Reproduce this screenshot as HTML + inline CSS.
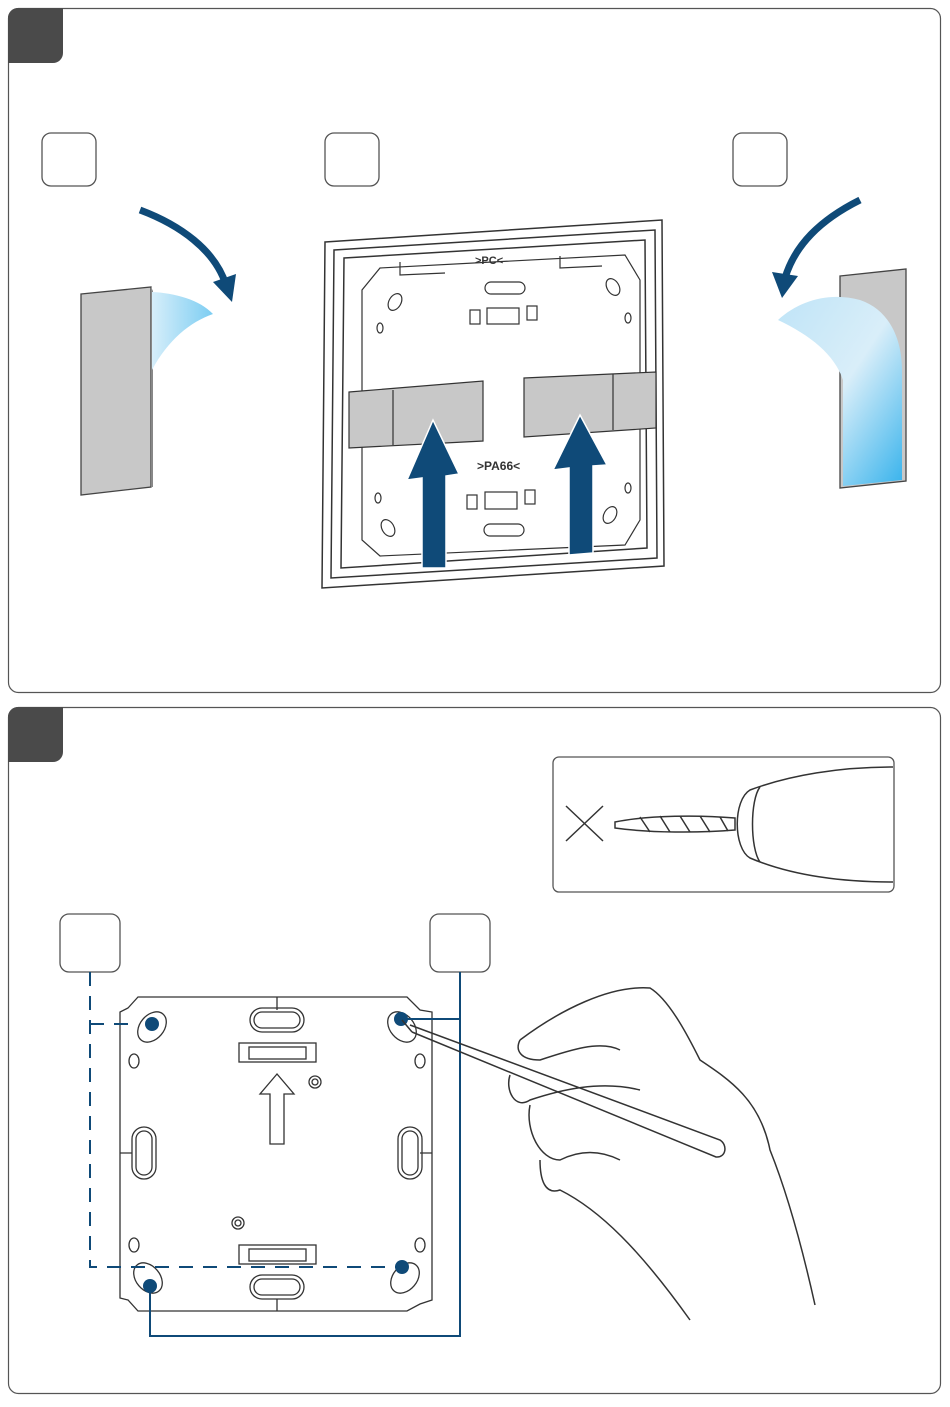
<!DOCTYPE html>
<html><head><meta charset="utf-8"><style>html,body{margin:0;padding:0;background:#fff}</style></head>
<body>
<svg width="950" height="1402" viewBox="0 0 950 1402" xmlns="http://www.w3.org/2000/svg">
<defs>
<linearGradient id="tape" x1="0" y1="0" x2="1" y2="1">
<stop offset="0" stop-color="#bfe4f7"/><stop offset="0.5" stop-color="#d9eef9"/><stop offset="1" stop-color="#38b3ec"/>
</linearGradient>
<linearGradient id="tape2" x1="0" y1="0" x2="1" y2="0">
<stop offset="0" stop-color="#d6eefa"/><stop offset="1" stop-color="#7ccdf2"/>
</linearGradient>
</defs>
<g fill="none" stroke="#555" stroke-width="1.2">
<rect x="8.5" y="8.5" width="932" height="684" rx="10"/>
<rect x="8.5" y="707.5" width="932" height="686" rx="10"/>
</g>
<path d="M8,18 a10,10 0 0 1 10,-10 H63 V53 a10,10 0 0 1 -10,10 H8Z" fill="#4a4a4a"/>
<path d="M8,717 a10,10 0 0 1 10,-10 H63 V752 a10,10 0 0 1 -10,10 H8Z" fill="#4a4a4a"/>
<g fill="none" stroke="#555" stroke-width="1.3">
<rect x="42" y="133" width="54" height="53" rx="9"/>
<rect x="325" y="133" width="54" height="53" rx="9"/>
<rect x="733" y="133" width="54" height="53" rx="9"/>
<rect x="60" y="914" width="60" height="58" rx="9"/>
<rect x="430" y="914" width="60" height="58" rx="9"/>
<rect x="553" y="757" width="341" height="135" rx="6"/>
</g>
<!-- left tape -->
<path d="M81,294 L151,287 L151,487 L81,495Z" fill="#c8c8c8" stroke="#444" stroke-width="1.3"/>
<path d="M151,287 L153,291 L153,487 L151,487Z" fill="#888"/>
<path d="M152,292 C175,293 200,300 213,314 C190,322 168,340 152,370Z" fill="url(#tape2)"/>
<path d="M140,210 C180,225 215,250 226,285" stroke="#0f4a78" stroke-width="7" fill="none"/>
<path d="M213,282 L232,302 L236,274Z" fill="#0f4a78"/>
<!-- right tape -->
<path d="M840,276 L906,269 L906,481 L840,488Z" fill="#c8c8c8" stroke="#444" stroke-width="1.3"/>
<path d="M778,320 C800,300 830,292 860,300 C890,310 902,340 902,370 L902,480 L843,486 L843,380 C835,355 810,335 778,320Z" fill="url(#tape)"/>
<path d="M860,200 C820,220 795,245 785,278" stroke="#0f4a78" stroke-width="7" fill="none"/>
<path d="M772,272 L782,298 L798,276Z" fill="#0f4a78"/>
<!-- frame -->
<g stroke="#333" stroke-width="1.5" fill="#fff">
<path d="M325,242 L662,220 L664,566 L322,588Z"/>
<path d="M334,250 L655,230 L657,558 L331,578Z"/>
<path d="M344,258 L645,240 L647,548 L341,568Z"/>
</g>
<g stroke="#333" stroke-width="1.2" fill="none">
<path d="M380,268 L625,255 L640,280 L640,520 L625,545 L380,556 L362,540 L362,290Z"/>
<path d="M400,262 L400,275 L445,273 M560,256 L560,268 L602,266"/>
<rect x="485" y="282" width="40" height="12" rx="6"/>
<rect x="484" y="524" width="40" height="12" rx="6"/>
<ellipse cx="395" cy="302" rx="6" ry="9" transform="rotate(30 395 302)"/>
<ellipse cx="613" cy="287" rx="6" ry="9" transform="rotate(-30 613 287)"/>
<ellipse cx="380" cy="328" rx="3" ry="5"/>
<ellipse cx="628" cy="318" rx="3" ry="5"/>
<ellipse cx="378" cy="498" rx="3" ry="5"/>
<ellipse cx="628" cy="488" rx="3" ry="5"/>
<ellipse cx="388" cy="528" rx="6" ry="9" transform="rotate(-30 388 528)"/>
<ellipse cx="610" cy="515" rx="6" ry="9" transform="rotate(30 610 515)"/>
<rect x="470" y="310" width="10" height="14"/><rect x="487" y="308" width="32" height="16"/><rect x="527" y="306" width="10" height="14"/>
<rect x="467" y="495" width="10" height="14"/><rect x="485" y="492" width="32" height="17"/><rect x="525" y="490" width="10" height="14"/>
</g>
<text x="475" y="264" font-family="Liberation Sans,sans-serif" font-size="11" font-weight="bold" fill="#333">&gt;PC&lt;</text>
<text x="477" y="470" font-family="Liberation Sans,sans-serif" font-size="12" font-weight="bold" fill="#333">&gt;PA66&lt;</text>
<g fill="#c8c8c8" stroke="#333" stroke-width="1.2">
<path d="M349,392 L483,381 L483,441 L349,448Z"/><path d="M393,390 L393,445"/>
<path d="M524,378 L656,372 L656,428 L524,437Z"/><path d="M613,374 L613,430"/>
</g>
<g fill="#0f4a78" stroke="#fff" stroke-width="1.5">
<path d="M433,420 L407,480 L422,478 L422,568 L446,568 L446,476 L459,474Z"/>
<path d="M580,415 L553,470 L569,468 L569,555 L593,553 L593,466 L607,465Z"/>
</g>
<!-- drill inset -->
<g stroke="#333" stroke-width="1.5" fill="none">
<path d="M566,806 L603,841 M603,806 L566,841"/>
<path d="M615,822 C650,815 700,815 735,818 L735,830 C700,833 650,833 615,828Z" fill="#fff"/>
<path d="M640,817 L650,832 M660,816 L670,832 M680,816 L690,832 M700,816 L710,832 M720,817 L728,831"/>
<path d="M893,767 C840,767 790,775 750,790 C733,800 733,848 750,858 C790,875 840,882 893,882" fill="#fff"/>
<path d="M760,787 C750,800 750,848 760,862"/>
</g>
<!-- mounting plate -->
<g stroke="#333" stroke-width="1.3" fill="none">
<path d="M138,997 L407,997 L420,1010 L432,1012 L432,1300 L420,1304 L407,1311 L138,1311 L128,1300 L120,1298 L120,1012 L128,1008Z"/>
<path d="M277,997 V1010 M277,1299 V1311 M120,1153 H132 M420,1153 H432"/>
<rect x="250" y="1008" width="54" height="24" rx="12"/><rect x="254" y="1012" width="46" height="16" rx="8"/>
<rect x="250" y="1275" width="54" height="24" rx="12"/><rect x="254" y="1279" width="46" height="16" rx="8"/>
<rect x="132" y="1127" width="24" height="52" rx="12"/><rect x="136" y="1131" width="16" height="44" rx="8"/>
<rect x="398" y="1127" width="24" height="52" rx="12"/><rect x="402" y="1131" width="16" height="44" rx="8"/>
<rect x="239" y="1043" width="77" height="19"/><rect x="249" y="1047" width="57" height="12"/>
<rect x="239" y="1245" width="77" height="19"/><rect x="249" y="1249" width="57" height="12"/>
<path d="M277,1074 L260,1094 L270,1094 L270,1144 L284,1144 L284,1094 L294,1094Z"/>
<circle cx="315" cy="1082" r="6"/><circle cx="315" cy="1082" r="3"/>
<circle cx="238" cy="1223" r="6"/><circle cx="238" cy="1223" r="3"/>
<ellipse cx="152" cy="1027" rx="12" ry="17" transform="rotate(40 152 1027)"/>
<ellipse cx="402" cy="1027" rx="12" ry="17" transform="rotate(-40 402 1027)"/>
<ellipse cx="148" cy="1278" rx="12" ry="17" transform="rotate(-40 148 1278)"/>
<ellipse cx="405" cy="1278" rx="12" ry="17" transform="rotate(40 405 1278)"/>
<ellipse cx="134" cy="1061" rx="5" ry="7"/><ellipse cx="420" cy="1061" rx="5" ry="7"/>
<ellipse cx="134" cy="1245" rx="5" ry="7"/><ellipse cx="420" cy="1245" rx="5" ry="7"/>
</g>
<g stroke="#0f4a78" stroke-width="2" fill="none">
<path d="M90,972 V1267 H400" stroke-dasharray="14,10"/>
<path d="M90,1024 H130" stroke-dasharray="14,10"/>
<path d="M460,972 V1336 H150 V1288"/>
<path d="M402,1019 H460"/>
</g>
<g fill="#0f4a78">
<circle cx="152" cy="1024" r="7"/><circle cx="401" cy="1019" r="7"/>
<circle cx="150" cy="1286" r="7"/><circle cx="402" cy="1267" r="7"/>
</g>
<!-- hand with pencil -->
<g stroke="#333" stroke-width="1.5" fill="none">
<path d="M410,1025 L720,1140 C728,1145 726,1158 716,1157 L412,1032"/>
<path d="M412,1032 L402,1020"/>
<path d="M520,1040 C560,1010 610,985 650,988 C670,1000 690,1040 700,1060 C730,1080 760,1100 770,1150 C790,1200 805,1260 815,1305"/>
<path d="M520,1040 C515,1050 520,1060 540,1060 C570,1050 600,1040 620,1050"/>
<path d="M510,1075 C505,1090 515,1110 530,1100 C560,1090 600,1080 640,1090"/>
<path d="M530,1105 C525,1130 540,1160 560,1160 C580,1150 600,1150 620,1160"/>
<path d="M540,1160 C540,1180 545,1195 560,1190 C600,1210 640,1250 690,1320"/>
</g>
</svg>
</body></html>
